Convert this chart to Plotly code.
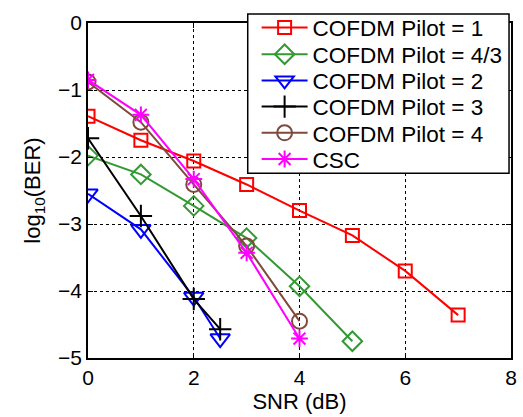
import plotly.graph_objects as go

# SNR points (dB) and log10(BER) for each scheme
snr_p1 = [0, 1, 2, 3, 4, 5, 6, 7]
ber_p1 = [-1.39, -1.75, -2.06, -2.41, -2.80, -3.17, -3.70, -4.36]

snr_p43 = [0, 1, 2, 3, 4, 5]
ber_p43 = [-1.98, -2.26, -2.73, -3.21, -3.93, -4.75]

snr_p2 = [0, 1, 2, 2.5]
ber_p2 = [-2.55, -3.08, -4.09, -4.71]

snr_p3 = [0, 1, 2, 2.5]
ber_p3 = [-1.72, -2.88, -4.12, -4.57]

snr_p4 = [0, 1, 2, 3, 4]
ber_p4 = [-0.88, -1.48, -2.41, -3.33, -4.45]

snr_csc = [0, 1, 2, 3, 4]
ber_csc = [-0.85, -1.37, -2.33, -3.43, -4.71]

names = ["COFDM Pilot = 1", "COFDM Pilot = 4/3", "COFDM Pilot = 2",
         "COFDM Pilot = 3", "COFDM Pilot = 4", "CSC"]
xs = [snr_p1, snr_p43, snr_p2, snr_p3, snr_p4, snr_csc]
ys = [ber_p1, ber_p43, ber_p2, ber_p3, ber_p4, ber_csc]
colors = ["#ff0000", "#339933", "#0000ff", "#000000", "#7f4a3c", "#ff00ff"]
symbols = ["square-open", "diamond-open", "triangle-down-open",
           "cross-thin-open", "circle-open", "asterisk-open"]
sizes = [13, 15, 17, 16, 15, 14]

FONT = "Liberation Sans, Arial, sans-serif"

# Plot area geometry in pixels (used to place the legend rows in paper units)
W, H = 523, 417
ML, MR, MT, MB = 88, 6, 19, 59
PW, PH = W - ML - MR, H - MT - MB


def px_x(p):
    return (p - ML) / PW


def px_y(p):
    return (H - MB - p) / PH


# Legend row centres (pixels from top) and the legend frame
row_y = [24, 51, 77.5, 104, 130.5, 157]
legend_names = ["legend", "legend2", "legend3", "legend4", "legend5", "legend6"]

fig = go.Figure()
for i, (x, y, n, c, s, sz) in enumerate(zip(xs, ys, names, colors, symbols, sizes)):
    fig.add_trace(go.Scatter(
        x=x, y=y, name=n, mode="lines+markers",
        line=dict(color=c, width=2),
        marker=dict(symbol=s, size=sz, color=c, line=dict(color=c, width=2)),
        legend=legend_names[i],
    ))

axis_common = dict(
    showline=True, linecolor="black", linewidth=1.5, mirror="ticks",
    ticks="inside", ticklen=5, tickwidth=1, tickcolor="black",
    showgrid=True, gridcolor="black", gridwidth=1, griddash="dot",
    zeroline=False, tickfont=dict(size=21, color="black", family=FONT),
)

legend_layout = {}
for ln, ry in zip(legend_names, row_y):
    legend_layout[ln] = dict(
        x=px_x(259), y=px_y(ry), xanchor="left", yanchor="middle",
        bgcolor="rgba(0,0,0,0)", borderwidth=0,
        font=dict(size=22.5, family=FONT, color="black"),
        itemwidth=46,
    )

fig.update_layout(
    width=W, height=H,
    margin=dict(l=ML, r=MR, t=MT, b=MB),
    paper_bgcolor="white", plot_bgcolor="white",
    font=dict(family=FONT, color="black"),
    xaxis=dict(range=[0, 8], dtick=2, **axis_common,
               title=dict(text="SNR (dB)", font=dict(size=22), standoff=5)),
    yaxis=dict(range=[-5, 0], dtick=1, **axis_common,
               title=dict(text="log<sub>10</sub>(BER)", font=dict(size=22), standoff=11)),
    showlegend=True,
    shapes=[dict(
        type="rect", xref="paper", yref="paper",
        x0=px_x(250), x1=px_x(515), y0=px_y(171), y1=px_y(10),
        line=dict(color="black", width=1.5), fillcolor="white", layer="above",
    )],
    **legend_layout,
)

fig.write_html("out.html")
